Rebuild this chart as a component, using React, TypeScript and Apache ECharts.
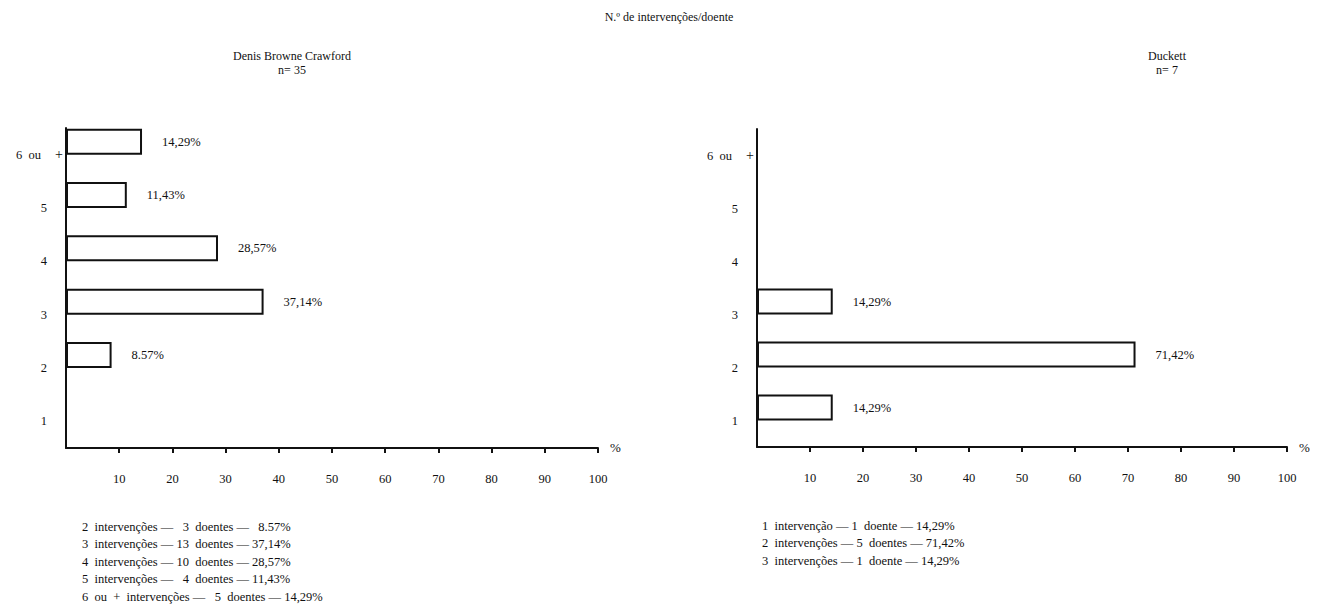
import React, { useEffect, useRef } from "react";
import * as echarts from "echarts";

const categories = ["1", "2", "3", "4", "5", "6 ou +"];
const crawfordValues: (number | string)[] = ["-", 8.57, 37.14, 28.57, 11.43, 14.29];
const crawfordLabels = ["", "8.57%", "37,14%", "28,57%", "11,43%", "14,29%"];
const duckettValues: (number | string)[] = [14.29, 71.42, 14.29, "-", "-", "-"];
const duckettLabels = ["14,29%", "71,42%", "14,29%", "", "", ""];
const xTicks = [10, 20, 30, 40, 50, 60, 70, 80, 90, 100];

const mainTitle = "N.º de intervenções/doente";
const leftTitle = "Denis Browne Crawford";
const leftN = "n= 35";
const rightTitle = "Duckett";
const rightN = "n= 7";

const crawfordNotes = [
  "2  intervenções —   3  doentes —   8.57%",
  "3  intervenções — 13  doentes — 37,14%",
  "4  intervenções — 10  doentes — 28,57%",
  "5  intervenções —   4  doentes — 11,43%",
  "6  ou  +  intervenções —   5  doentes — 14,29%",
];
const duckettNotes = [
  "1  intervenção — 1  doente — 14,29%",
  "2  intervenções — 5  doentes — 71,42%",
  "3  intervenções — 1  doente — 14,29%",
];

const FONT = "'Liberation Serif', 'DejaVu Serif', serif";
const INK = "#111";

function yAxisFor(gridIndex: number) {
  return {
    type: "category",
    gridIndex,
    data: categories,
    axisLine: { show: true, lineStyle: { color: INK, width: 2 } },
    axisTick: { show: false },
    axisLabel: {
      margin: 3,
      formatter: (v: string) => (v === "6 ou +" ? "{a|6  ou}{p|+}" : "{d|" + v + "}"),
      rich: {
        a: { fontFamily: FONT, fontSize: 12.5, color: INK },
        p: { fontFamily: FONT, fontSize: 14, color: INK, padding: [0, 0, 0, 14] },
        d: { fontFamily: FONT, fontSize: 12.5, color: INK, padding: [0, 16, 0, 0] },
      },
    },
    splitLine: { show: false },
  };
}

function xAxisFor(gridIndex: number) {
  return {
    type: "value",
    gridIndex,
    min: 0,
    max: 100,
    interval: 10,
    axisLine: { show: true, lineStyle: { color: INK, width: 2 } },
    axisTick: {
      show: true,
      length: 5,
      inside: false,
      lineStyle: { color: INK, width: 2 },
      customValues: xTicks,
    },
    axisLabel: {
      margin: 24,
      fontFamily: FONT,
      fontSize: 12.5,
      color: INK,
      customValues: xTicks,
    },
    splitLine: { show: false },
  };
}

function barSeries(idx: number, values: (number | string)[], labels: string[]) {
  return [
    {
      type: "bar",
      xAxisIndex: idx,
      yAxisIndex: idx,
      data: values,
      barWidth: 26,
      barGap: "0%",
      itemStyle: { color: "#fff", borderColor: INK, borderWidth: 2 },
      label: {
        show: true,
        position: "right",
        distance: 20,
        fontFamily: FONT,
        fontSize: 12.5,
        color: INK,
        formatter: (p: any) => labels[p.dataIndex],
      },
    },
    {
      type: "bar",
      xAxisIndex: idx,
      yAxisIndex: idx,
      data: values.map(() => "-"),
      barWidth: 26,
      barGap: "0%",
      silent: true,
      itemStyle: { color: "transparent" },
    },
  ];
}

function notesGraphic(lines: string[], x: number, y: number) {
  return {
    type: "text",
    left: x,
    top: y,
    style: {
      text: lines.join("\n"),
      font: `12.5px ${FONT}`,
      fill: INK,
      lineHeight: 17.5,
    },
  };
}

export default function App() {
  const ref = useRef<HTMLDivElement>(null);
  useEffect(() => {
    if (!ref.current) return;
    const chart = echarts.init(ref.current, null, { renderer: "svg" });
    const titleStyle = { fontFamily: FONT, fontSize: 12, fontWeight: "normal", color: INK };
    chart.setOption({
      animation: false,
      backgroundColor: "#fff",
      title: [
        { text: mainTitle, left: 664, top: 6, textAlign: "center", textStyle: titleStyle },
        { text: leftTitle, left: 287, top: 45, textAlign: "center", textStyle: titleStyle },
        { text: leftN, left: 287, top: 59, textAlign: "center", textStyle: titleStyle },
        { text: rightTitle, left: 1162, top: 45, textAlign: "center", textStyle: titleStyle },
        { text: rightN, left: 1162, top: 59, textAlign: "center", textStyle: titleStyle },
      ],
      grid: [
        { left: 66, top: 128, width: 532, height: 320 },
        { left: 757, top: 129, width: 530, height: 318 },
      ],
      xAxis: [xAxisFor(0), xAxisFor(1)],
      yAxis: [yAxisFor(0), yAxisFor(1)],
      series: [...barSeries(0, crawfordValues, crawfordLabels), ...barSeries(1, duckettValues, duckettLabels)],
      graphic: [
        { type: "text", left: 610, top: 441, style: { text: "%", font: `13px ${FONT}`, fill: INK } },
        { type: "text", left: 1299, top: 441, style: { text: "%", font: `13px ${FONT}`, fill: INK } },
        notesGraphic(crawfordNotes, 82, 518),
        notesGraphic(duckettNotes, 762, 517),
      ],
    });
    return () => chart.dispose();
  }, []);
  return (
    <div
      ref={ref}
      style={{ position: "fixed", left: 0, top: 0, width: 1328, height: 611, background: "#fff" }}
    />
  );
}
